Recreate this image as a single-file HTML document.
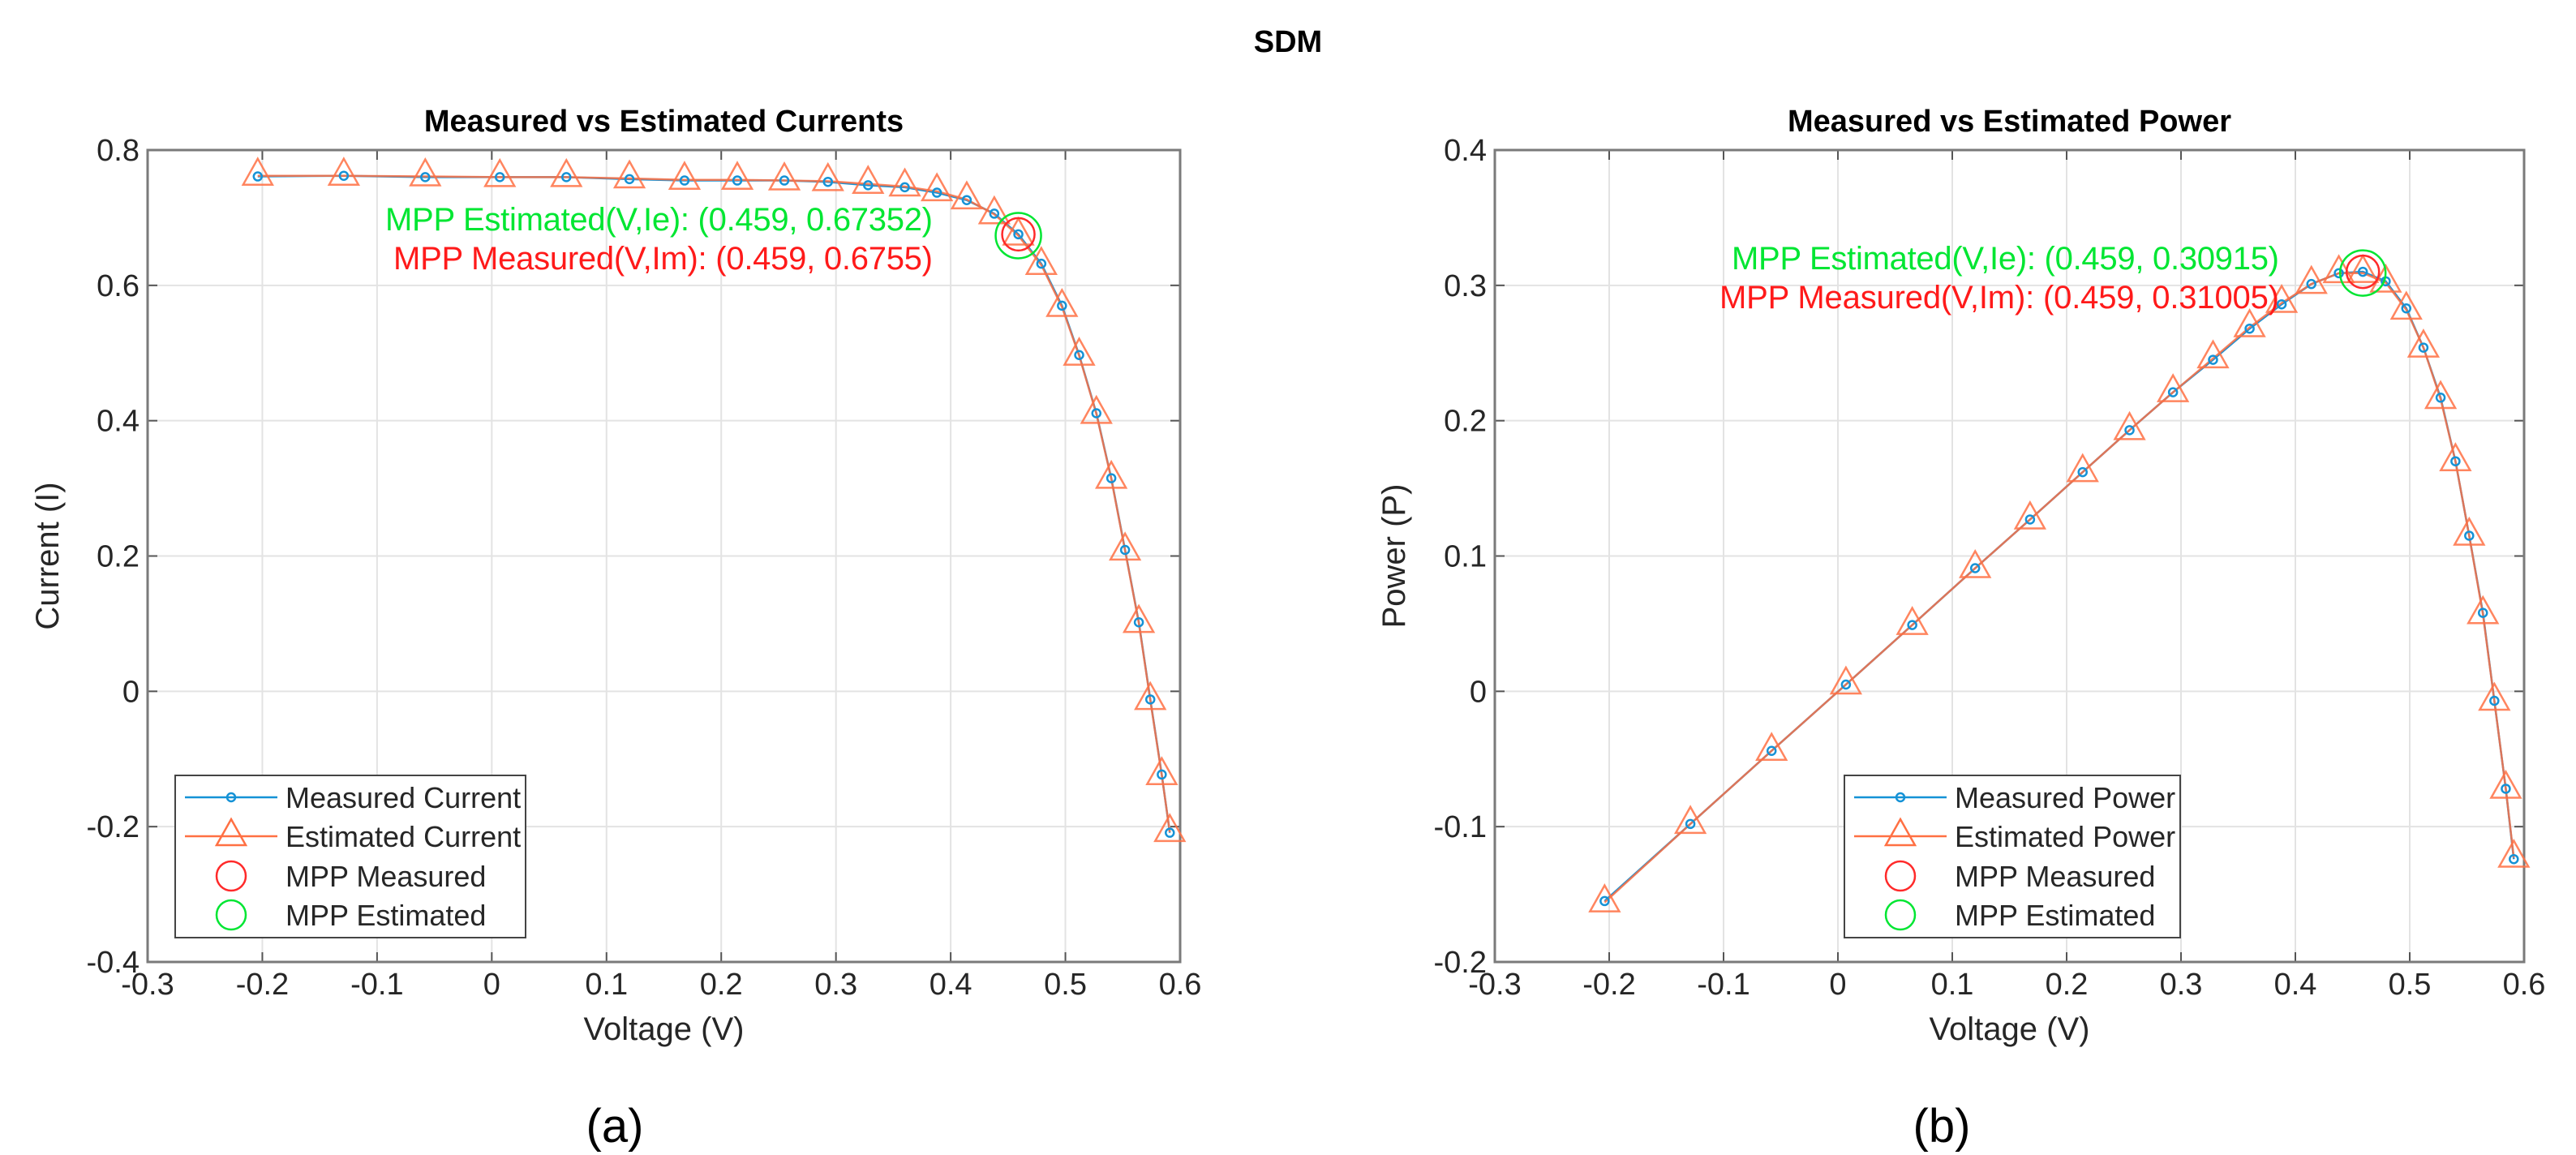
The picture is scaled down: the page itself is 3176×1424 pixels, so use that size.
<!DOCTYPE html>
<html><head><meta charset="utf-8"><style>
html,body{margin:0;padding:0;background:#fff}
svg{display:block}
text{font-family:"Liberation Sans",sans-serif}
.tk{font-size:38px;fill:#262626}
.ann{font-size:40px}
</style></head><body>
<svg id="fig" width="3176" height="1424" viewBox="0 0 3176 1424" xmlns="http://www.w3.org/2000/svg">
<text x="1588" y="64" text-anchor="middle" font-size="38" font-weight="bold">SDM</text>
<g id="pa"></g>
<g id="pb"></g>
<text x="758" y="1408" text-anchor="middle" font-size="58" font-family="Liberation Sans">(a)</text>
<text x="2394" y="1408" text-anchor="middle" font-size="58">(b)</text>
</svg>
<script>
const voltage = [-0.204,-0.129,-0.058,0.007,0.065,0.120,0.168,0.214,0.255,0.293,0.328,0.360,0.388,0.414,0.438,0.459,0.479,0.497,0.512,0.527,0.540,0.552,0.564,0.574,0.584,0.591];
const currentMeasured = [0.761,0.762,0.760,0.760,0.760,0.757,0.755,0.755,0.755,0.753,0.748,0.745,0.737,0.726,0.706,0.6755,0.632,0.570,0.497,0.411,0.315,0.209,0.102,-0.012,-0.123,-0.209];
const currentEstimated = [0.762,0.762,0.761,0.760,0.760,0.758,0.756,0.756,0.755,0.754,0.750,0.746,0.739,0.727,0.705,0.67352,0.630,0.568,0.496,0.410,0.314,0.208,0.101,-0.013,-0.124,-0.208];
const powerMeasured = [-0.155,-0.098,-0.044,0.005,0.049,0.091,0.127,0.162,0.193,0.221,0.245,0.268,0.286,0.301,0.309,0.31005,0.303,0.283,0.254,0.217,0.170,0.115,0.058,-0.007,-0.072,-0.124];
const powerEstimated = [-0.156,-0.098,-0.044,0.005,0.049,0.091,0.127,0.162,0.193,0.221,0.246,0.269,0.287,0.301,0.309,0.30915,0.302,0.282,0.254,0.216,0.170,0.115,0.057,-0.007,-0.072,-0.123];
const xTicks = [-0.3,-0.2,-0.1,0,0.1,0.2,0.3,0.4,0.5,0.6];
const yTicksA = [-0.4,-0.2,0,0.2,0.4,0.6,0.8];
const yTicksB = [-0.2,-0.1,0,0.1,0.2,0.3,0.4];
const mppV = 0.459;
const mppIm = 0.6755, mppIe = 0.67352, mppPm = 0.31005, mppPe = 0.30915;

const NS="http://www.w3.org/2000/svg";
function mk(parent,tag,attrs,txt){const e=document.createElementNS(NS,tag);for(const k in attrs)e.setAttribute(k,attrs[k]);if(txt!==undefined)e.textContent=txt;parent.appendChild(e);return e;}
const BLUE="#1592d6", ORANGE="#ff7043";

function plot(g, cfg){
  const L=cfg.left,R=cfg.right,T=185,B=1186;
  const xs=v=>L+(v-(-0.3))/0.9*(R-L);
  const ys=v=>B-(v-cfg.ymin)/(cfg.ymax-cfg.ymin)*(B-T);
  let e;
  e=mk(g,'rect',{x:L,y:T,width:R-L,height:B-T,fill:'#fff'});
  
  
  xTicks.forEach(t=>{
    const x=xs(t);
    e=mk(g,'line',{x1:x,y1:T,x2:x,y2:B,stroke:'#e3e3e3','stroke-width':2});
    
    
    mk(g,'line',{x1:x,y1:B,x2:x,y2:B-12,stroke:'#555','stroke-width':2});
    mk(g,'line',{x1:x,y1:T,x2:x,y2:T+12,stroke:'#555','stroke-width':2});
    e=mk(g,'text',{x:x,y:B+40,'text-anchor':'middle',class:'tk'},String(t));
    
    
  });
  cfg.yTicks.forEach(t=>{
    const y=ys(t);
    e=mk(g,'line',{x1:L,y1:y,x2:R,y2:y,stroke:'#e3e3e3','stroke-width':2});
    
    
    mk(g,'line',{x1:L,y1:y,x2:L+12,y2:y,stroke:'#555','stroke-width':2});
    mk(g,'line',{x1:R,y1:y,x2:R-12,y2:y,stroke:'#555','stroke-width':2});
    e=mk(g,'text',{x:L-10,y:y+13,'text-anchor':'end',class:'tk'},String(t));
    
    
  });
  e=mk(g,'rect',{x:L,y:T,width:R-L,height:B-T,fill:'none',stroke:'#7a7a7a','stroke-width':3});
  
  
  // lines
  const pts=(arr)=>voltage.map((v,i)=>xs(v)+','+ys(arr[i])).join(' ');
  e=mk(g,'polyline',{points:pts(cfg.meas),fill:'none',stroke:BLUE,'stroke-width':2.5});
  
  
  e=mk(g,'polyline',{points:pts(cfg.est),fill:'none',stroke:ORANGE,'stroke-width':2.5,'stroke-opacity':0.85});
  
  
  voltage.forEach((v,i)=>{
    const x=xs(v),y=ys(cfg.est[i]);
    e=mk(g,'polygon',{points:`${x},${y-21} ${x+18},${y+11} ${x-18},${y+11}`,fill:'none',stroke:ORANGE,'stroke-width':2.5,'stroke-opacity':0.85});
    
    
  });
  voltage.forEach((v,i)=>{
    e=mk(g,'circle',{cx:xs(v),cy:ys(cfg.meas[i]),r:5,fill:'none',stroke:BLUE,'stroke-width':2.5});
    
    
  });
  e=mk(g,'circle',{cx:xs(mppV),cy:ys(cfg.mppM),r:20,fill:'none',stroke:'#ff2a2a','stroke-width':2.5});
  
  
  e=mk(g,'circle',{cx:xs(mppV),cy:ys(cfg.mppE),r:28,fill:'none',stroke:'#00e632','stroke-width':2.5});
  
  
  e=mk(g,'text',{x:cfg.annX,y:cfg.annY,'text-anchor':'end',class:'ann',fill:'#00e632','textLength':cfg.annW1},cfg.ann1);
  
  
  e=mk(g,'text',{x:cfg.annX,y:cfg.annY+48,'text-anchor':'end',class:'ann',fill:'#ff1a1a','textLength':cfg.annW2},cfg.ann2);
  
  
  // titles
  e=mk(g,'text',{x:(L+R)/2,y:162,'text-anchor':'middle','font-size':38,'font-weight':'bold'},cfg.title);
  
  
  e=mk(g,'text',{x:(L+R)/2,y:1282,'text-anchor':'middle','font-size':40,fill:'#262626'},'Voltage (V)');
  
  
  e=mk(g,'text',{x:cfg.ylabX,y:(T+B)/2,'text-anchor':'middle','font-size':40,fill:'#262626',transform:`rotate(-90 ${cfg.ylabX} ${(T+B)/2})`},cfg.ylab);
  
  
  // legend
  const lg=mk(g,'g',{});
  
  
  const lx=cfg.legX,lw=cfg.legW;
  mk(lg,'rect',{x:lx,y:956,width:lw,height:200,fill:'#fff',stroke:'#444','stroke-width':2});
  const rows=[983,1031,1080,1128];
  const mx=lx+69;
  mk(lg,'line',{x1:lx+12,y1:rows[0],x2:lx+126,y2:rows[0],stroke:BLUE,'stroke-width':2.5});
  mk(lg,'circle',{cx:mx,cy:rows[0],r:5,fill:'none',stroke:BLUE,'stroke-width':2.5});
  mk(lg,'line',{x1:lx+12,y1:rows[1],x2:lx+126,y2:rows[1],stroke:ORANGE,'stroke-width':2.5});
  mk(lg,'polygon',{points:`${mx},${rows[1]-21} ${mx+18},${rows[1]+11} ${mx-18},${rows[1]+11}`,fill:'none',stroke:ORANGE,'stroke-width':2.5});
  mk(lg,'circle',{cx:mx,cy:rows[2],r:18,fill:'none',stroke:'#ff2a2a','stroke-width':2.5});
  mk(lg,'circle',{cx:mx,cy:rows[3],r:18,fill:'none',stroke:'#00e632','stroke-width':2.5});
  cfg.legLabels.forEach((s,i)=>{
    e=mk(lg,'text',{x:lx+136,y:rows[i]+13,'font-size':36,fill:'#262626'},s);
    
    
  });
}
plot(document.getElementById('pa'),{left:182,right:1455,ymin:-0.4,ymax:0.8,yTicks:yTicksA,meas:currentMeasured,est:currentEstimated,
  mppM:mppIm,mppE:mppIe,annX:1150,annY:284,annW1:675,annW2:665,
  ann1:'MPP Estimated(V,Ie): (0.459, 0.67352)',ann2:'MPP Measured(V,Im): (0.459, 0.6755)',
  title:'Measured vs Estimated Currents',ylab:'Current (I)',ylabX:72,legX:216,legW:432,
  legLabels:['Measured Current','Estimated Current','MPP Measured','MPP Estimated']});
plot(document.getElementById('pb'),{left:1843,right:3112,ymin:-0.2,ymax:0.4,yTicks:yTicksB,meas:powerMeasured,est:powerEstimated,
  mppM:mppPm,mppE:mppPe,annX:2810,annY:332,annW1:675,annW2:690,
  ann1:'MPP Estimated(V,Ie): (0.459, 0.30915)',ann2:'MPP Measured(V,Im): (0.459, 0.31005)',
  title:'Measured vs Estimated Power',ylab:'Power (P)',ylabX:1732,legX:2274,legW:414,
  legLabels:['Measured Power','Estimated Power','MPP Measured','MPP Estimated']});
</script>
</body></html>
